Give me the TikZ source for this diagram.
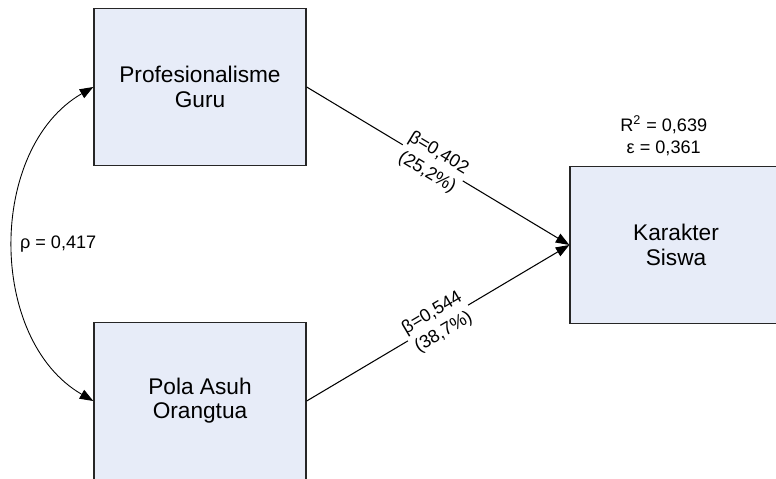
\documentclass[tikz,border=0pt]{standalone}
\usepackage{fontspec}
\setmainfont{Liberation Sans}
\usepackage{xcolor}
\usepackage{tikz}
\usetikzlibrary{positioning,arrows.meta}

\definecolor{kotakbiru}{RGB}{231,236,248}
\tikzset{
	kotak/.style={draw=black!85, line width=0.8pt, fill=kotakbiru, minimum width=4.24cm, minimum height=3.14cm, align=center, font=\fontsize{12.9}{13.8}\selectfont},
	panah/.style={line width=0.6pt, -{Triangle[length=0.27cm,width=0.2cm]}},
	label/.style={font=\fontsize{10.3}{12.8}\selectfont, align=center},
	koef/.style={label, fill=white, inner sep=1pt}
}

\begin{document}
\begin{tikzpicture}[x=0.02cm, y=-0.02cm]
	\clip (0,0) rectangle (776,479);
	\node[kotak] (prof)     at (200,87)  {Profesionalisme\\Guru};
	\node[kotak] (pola)     at (200,401) {Pola Asuh\\Orangtua};
	\node[kotak] (karakter) at (676,245) {Karakter\\Siswa};
	\node[label, above=2pt of karakter, xshift=-7pt] (rsq) {R\textsuperscript{2} = 0,639\\ε = 0,361};
	\draw[panah] (prof.east) -- (karakter.west)
		node[koef, pos=0.48, sloped] {β=0,402\\(25,2\%)};
	\draw[panah] (pola.east) -- (karakter.west)
		node[koef, pos=0.5, sloped] {β=0,544\\(38,7\%)};
	\draw[line width=0.5pt, {Triangle[length=0.27cm,width=0.2cm]}-{Triangle[length=0.27cm,width=0.2cm]}] (prof.west) to[bend right=60]
		node[label, midway, right=0pt] {ρ = 0,417} (pola.west);
\end{tikzpicture}
\end{document}
